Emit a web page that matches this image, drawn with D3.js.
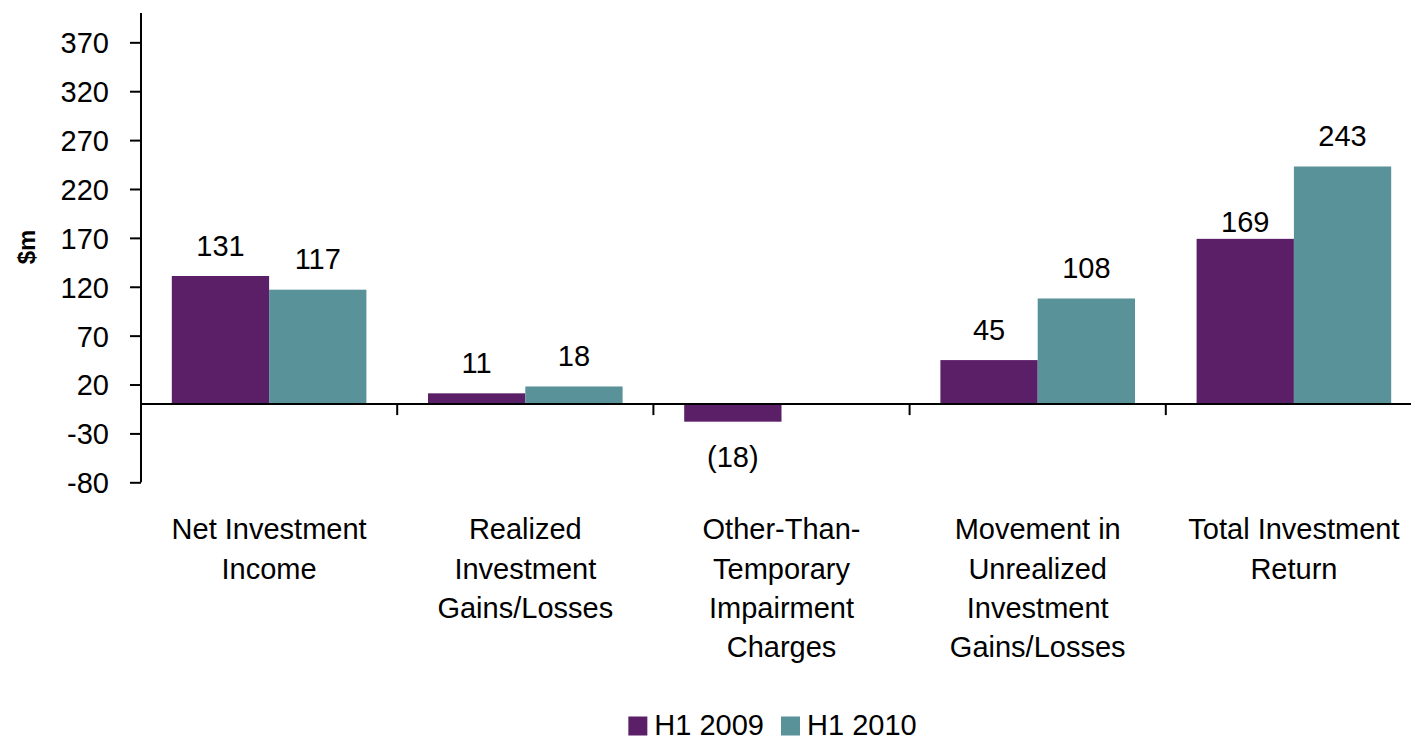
<!DOCTYPE html>
<html>
<head>
<meta charset="utf-8">
<script src="https://cdn.jsdelivr.net/npm/d3@7"></script>
<style>
  html, body { margin: 0; padding: 0; background: #fff; }
  svg { display: block; font-family: "Liberation Sans", Arial, sans-serif; }
</style>
</head>
<body>
<svg id="chart" width="1411" height="741"></svg>
<script>
// ---- data ----
const categories = [
  "Net Investment\nIncome",
  "Realized\nInvestment\nGains/Losses",
  "Other-Than-\nTemporary\nImpairment\nCharges",
  "Movement in\nUnrealized\nInvestment\nGains/Losses",
  "Total Investment\nReturn"
];
const seriesNames = ["H1 2009", "H1 2010"];
const h1_2009 = [131, 11, -18, 45, 169];
const h1_2010 = [117, 18, null, 108, 243];
const yTicks = [-80, -30, 20, 70, 120, 170, 220, 270, 320, 370];
const yDomain = [-80, 400];
const colors = ["#5B1F67", "#5A929A"];

// ---- layout ----
const svg = d3.select("#chart");
const plot = { left: 141, right: 1422, top: 13, bottom: 482.3 };
const fontSize = 29;

const y = d3.scaleLinear().domain(yDomain).range([plot.bottom, plot.top]);
const x0 = d3.scaleBand().domain(d3.range(categories.length)).range([plot.left, plot.right]).padding(0);
const groupPad = 30.8;
const x1 = d3.scaleBand().domain(d3.range(seriesNames.length))
  .range([groupPad, x0.bandwidth() - groupPad]).padding(0);

const series = [h1_2009, h1_2010];
const bars = [];
series.forEach((vals, si) => vals.forEach((v, ci) => {
  if (v !== null && v !== undefined) bars.push({ si, ci, v });
}));

// bars
svg.append("g").selectAll("rect").data(bars).join("rect")
  .attr("x", d => x0(d.ci) + x1(d.si))
  .attr("width", x1.bandwidth())
  .attr("y", d => y(Math.max(0, d.v)))
  .attr("height", d => Math.abs(y(d.v) - y(0)))
  .attr("fill", d => colors[d.si]);

// y axis
const yAxis = d3.axisLeft(y).tickValues(yTicks).tickSize(11).tickPadding(21).tickFormat(d => String(d));
const gy = svg.append("g").attr("transform", `translate(${plot.left},0)`).call(yAxis);
gy.select(".domain").attr("d", `M0,${plot.top}V${plot.bottom}`).attr("stroke", "#000").attr("stroke-width", 2);
gy.selectAll(".tick line").attr("stroke", "#000").attr("stroke-width", 2);
gy.selectAll(".tick text").attr("font-size", fontSize).attr("fill", "#000")
  .attr("font-family", "Liberation Sans, Arial, sans-serif").attr("dy", "0.36em");

// x axis at zero
const zeroY = y(0);
svg.append("line").attr("x1", plot.left).attr("x2", plot.right)
  .attr("y1", zeroY).attr("y2", zeroY).attr("stroke", "#000").attr("stroke-width", 2);
svg.append("g").selectAll("line").data(d3.range(1, categories.length + 1)).join("line")
  .attr("x1", d => plot.left + d * x0.step()).attr("x2", d => plot.left + d * x0.step())
  .attr("y1", zeroY).attr("y2", zeroY + 11).attr("stroke", "#000").attr("stroke-width", 2);

// category labels
const catG = svg.append("g");
categories.forEach((c, i) => {
  const t = catG.append("text").attr("text-anchor", "middle").attr("font-size", fontSize).attr("fill", "#000");
  c.split("\n").forEach((line, li) => {
    t.append("tspan").attr("x", x0(i) + x0.bandwidth() / 2).attr("y", 539.3 + li * 39.2).text(line);
  });
});

// data labels
const labelNudge = { "0-4": 14 }; // manual offset of overlapping label (series-category)
const fmt = v => v < 0 ? `(${Math.abs(v)})` : `${v}`;
svg.append("g").selectAll("text").data(bars).join("text")
  .attr("text-anchor", "middle").attr("font-size", fontSize).attr("fill", "#000")
  .attr("x", d => x0(d.ci) + x1(d.si) + x1.bandwidth() / 2)
  .attr("y", d => d.v >= 0 ? y(d.v) - 20.5 + (labelNudge[`${d.si}-${d.ci}`] || 0) : y(d.v) + 45)
  .text(d => fmt(d.v));

// y title
svg.append("text").attr("transform", "translate(35,247) rotate(-90)")
  .attr("text-anchor", "middle").attr("font-size", 24).attr("font-weight", "bold").attr("fill", "#000")
  .text("$m");

// legend
const legend = svg.append("g");
let lx = 0;
seriesNames.forEach((s, i) => {
  const g = legend.append("g").attr("transform", `translate(${lx},0)`);
  g.append("rect").attr("x", 0).attr("y", 716.5).attr("width", 19).attr("height", 19).attr("fill", colors[i]);
  const t = g.append("text").attr("x", 26).attr("y", 735).attr("font-size", fontSize).attr("fill", "#000").text(s);
  lx += 26 + t.node().getComputedTextLength() + 17;
});
const legW = lx - 17;
legend.attr("transform", `translate(${772.5 - legW / 2},0)`);
</script>
</body>
</html>
